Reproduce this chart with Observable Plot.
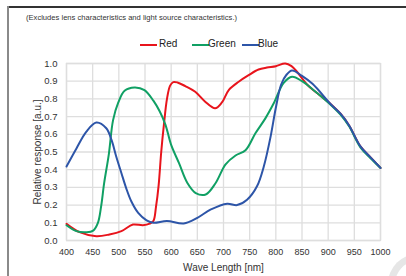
<!DOCTYPE html>
<html><head><meta charset="utf-8">
<script src="https://cdn.jsdelivr.net/npm/d3@7"></script>
<script src="https://cdn.jsdelivr.net/npm/@observablehq/plot@0.6"></script>
<style>
html,body{margin:0;padding:0;background:#fff;}
body{width:406px;height:276px;position:relative;overflow:hidden;font-family:"Liberation Sans",Arial,sans-serif;}
#frameTop{position:absolute;left:8px;top:6px;width:400px;height:1.5px;background:#333;}
#frameLeft{position:absolute;left:7px;top:6px;width:1.5px;height:280px;background:#8a8a8a;}
#title{position:absolute;left:26px;top:12.5px;font-size:7.6px;color:#333;white-space:nowrap;}
#legend{position:absolute;top:38px;left:140px;font-size:10px;color:#222;white-space:nowrap;}
#legend span.item{position:absolute;top:0;}
#legend span.sw{position:absolute;top:5.5px;height:2.4px;width:17px;}
#arc{position:absolute;left:388px;top:254px;width:60px;height:60px;border-radius:50%;border:7px solid #e6e6e6;border-right-color:transparent;border-bottom-color:transparent;box-sizing:border-box;}
#chart{position:absolute;left:0;top:0;}
</style></head>
<body>
<div id="frameTop"></div><div id="frameLeft"></div>
<div id="title">(Excludes lens characteristics and light source characteristics.)</div>
<div id="legend"></div>
<div id="arc"></div>
<div id="chart"></div>
<script>
const seriesNames = ["Red", "Green", "Blue"];
const seriesColors = ["#e8141c", "#10a064", "#2d55a8"];

const redWave = [400,425,457,482,505,527,546,559,566,571,576,581,586,592,598,604,612,627,646,665,684,697,710,729,748,767,783,800,818,830,840,860,880,905,924,940,962,981,1000];
const redValue = [0.094,0.047,0.024,0.034,0.053,0.09,0.086,0.095,0.11,0.19,0.31,0.50,0.65,0.80,0.875,0.895,0.893,0.872,0.84,0.784,0.747,0.78,0.85,0.897,0.934,0.966,0.977,0.985,1.0,0.985,0.955,0.88,0.83,0.77,0.715,0.65,0.53,0.47,0.41];

const greenWave = [400,419,438,451,460,466,472,481,489,499,511,530,549,566,578,589,600,615,631,647,666,685,704,723,742,761,780,796,815,831,850,870,900,924,940,962,981,1000];
const greenValue = [0.086,0.053,0.047,0.056,0.10,0.19,0.325,0.49,0.68,0.78,0.846,0.865,0.85,0.79,0.73,0.655,0.54,0.437,0.325,0.268,0.26,0.325,0.43,0.48,0.51,0.606,0.69,0.775,0.89,0.925,0.90,0.855,0.78,0.71,0.645,0.525,0.465,0.41];

const blueWave = [400,419,438,457,476,486,495,505,514,524,537,553,566,592,624,650,675,707,726,745,764,777,790,800,810,820,831,850,870,905,924,940,962,981,1000];
const blueValue = [0.418,0.52,0.615,0.666,0.634,0.568,0.475,0.38,0.296,0.22,0.156,0.114,0.10,0.11,0.096,0.128,0.174,0.208,0.20,0.23,0.306,0.418,0.587,0.75,0.88,0.935,0.96,0.93,0.885,0.77,0.715,0.65,0.53,0.47,0.41];

const xTicks = [400,450,500,550,600,650,700,750,800,850,900,950,1000];
const yTicks = [0,0.1,0.2,0.3,0.4,0.5,0.6,0.7,0.8,0.9,1.0];

const colorOf = Object.fromEntries(seriesNames.map((s, i) => [s, seriesColors[i]]));
const waves = [redWave, greenWave, blueWave];
const values = [redValue, greenValue, blueValue];
const data = [];
seriesNames.forEach((s, i) => waves[i].forEach((w, j) => data.push({series: s, wave: w, value: values[i][j]})));

const chart = Plot.plot({
  width: 406, height: 276,
  marginLeft: 66, marginRight: 26, marginTop: 63, marginBottom: 36,
  style: {fontFamily: '"Liberation Sans", Arial, sans-serif', fontSize: "9px", color: "#333", background: "transparent"},
  x: {domain: [400, 1000]},
  y: {domain: [0, 1]},
  marks: [
    Plot.gridX(xTicks, {stroke: "#dedede", strokeOpacity: 1, strokeWidth: 1.3}),
    Plot.gridY(yTicks, {stroke: "#dedede", strokeOpacity: 1, strokeWidth: 1.3}),
    Plot.frame({stroke: "#dedede", strokeWidth: 1.3}),
    Plot.axisX({ticks: xTicks, tickSize: 0, tickPadding: 8, tickFormat: d => String(d), fontSize: 9,
      label: "Wave Length [nm]", labelAnchor: "center", labelOffset: 30, labelArrow: "none"}),
    Plot.axisY({ticks: yTicks, tickSize: 0, tickPadding: 9, tickFormat: d => d.toFixed(1), fontSize: 9.5,
      label: "Relative response [a.u.]", labelAnchor: "center", labelOffset: 33, labelArrow: "none"}),
    Plot.line(data, {x: "wave", y: "value", z: "series", stroke: d => colorOf[d.series], strokeWidth: 2, curve: "catmull-rom"})
  ]
});
chart.querySelectorAll('[aria-label="x-axis label"] text, [aria-label="y-axis label"] text').forEach(t => {
  t.style.fontSize = "10px";
  t.textContent = t.textContent.replace(/[\u2191\u2192\u2190\u2193]\s*|\s*[\u2191\u2192\u2190\u2193]/g, "");
});
document.getElementById("chart").appendChild(chart);

const legend = document.getElementById("legend");
const lx = [[0, 19], [52, 68], [102, 118]];
seriesNames.forEach((s, i) => {
  const sw = document.createElement("span");
  sw.className = "sw"; sw.style.left = lx[i][0] + "px"; sw.style.background = seriesColors[i];
  const t = document.createElement("span");
  t.className = "item"; t.style.left = lx[i][1] + "px"; t.textContent = s;
  legend.appendChild(sw); legend.appendChild(t);
});
</script>
</body></html>
